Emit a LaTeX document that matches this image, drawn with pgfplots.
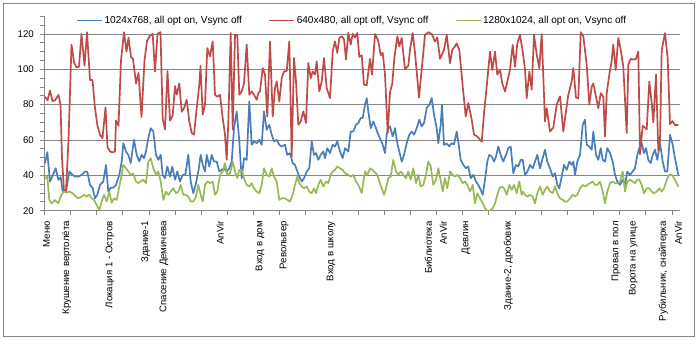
\documentclass[border=0pt]{standalone}
\usepackage{pgfplots}
\pgfplotsset{compat=1.18}
\usepackage{fontspec}
\setmainfont{Liberation Sans}
\definecolor{sblue}{HTML}{4A7EBB}
\definecolor{sred}{HTML}{BE4B48}
\definecolor{sgreen}{HTML}{98B954}
\definecolor{gridc}{HTML}{868686}
\begin{document}
\begin{tikzpicture}
\path[use as bounding box] (0bp,0bp) rectangle (697bp,340bp);
\draw[gridc, line width=0.75bp] (3bp,4bp) rectangle (694bp,337bp);
\begin{axis}[
  at={(44.3bp,129.3bp)}, anchor=south west,
  scale only axis, width=635.4bp, height=194.4bp,
  xmin=-0.7, xmax=634.7, ymin=20, ymax=130,
  axis lines=left, axis line style={-, gridc, line width=0.75bp},
  ytick={20,40,...,120},
  minor ytick={25,30,35,45,50,55,65,70,75,85,90,95,105,110,115,125,130},
  ymajorgrids, grid style={gridc, line width=0.75bp},
  tick align=outside, major tick length=4bp, minor tick length=4bp,
  tick style={gridc, line width=0.75bp},
  major x tick style={draw=none},
  xtick={1.7,21.7,65,100.7,119,175,215,239,286,383.3,398.3,421,463.3,571,588.3,618.3,633.3},
  xticklabels={Меню,Крушение вертолёта,Локация 1 - Остров,Здание-1,Спасение Демичева,AnVir,Вход в дом,Револьвер,Вход в школу,Библиотека,AnVir,Девлин,{Здание-2, дробовик},Провал в пол,Ворота на улице,{Рубильник,  снайперка},AnVir},
  minor xtick={-0.7,25.45,51.6,77.75,103.9,130.05,156.2,182.35,208.5,234.65,260.8,286.95,313.1,339.25,365.4,391.55,417.7,443.85,470,496.15,522.3,548.45,574.6,600.75,626.9},
  ticklabel style={font=\fontsize{9.7}{11}\selectfont},
  /pgf/number format/assume math mode=true,
  xticklabel style={yshift=-3bp, rotate=90, anchor=east},
  yticklabel style={xshift=-3bp},
  legend columns=3,
  legend style={draw=none, fill=none, at={(0.4843,0.978)}, anchor=center,
    font=\fontsize{10.1}{12}\selectfont,
    nodes={inner xsep=1.5bp},
    /tikz/every even column/.append style={column sep=25bp}},
  legend image code/.code={\draw[#1] (0bp,0bp) -- (25bp,0bp);},
  every axis plot/.append style={line width=1.7bp, mark=none, line join=round},
]
\addplot[sblue] coordinates {
(0,46.9) (2.3,53.1) (5,36.5) (7.7,40) (10.7,44) (13.3,37.5) (15.7,39) (17.7,30.8) (21,31) (24.3,42.2) (26.7,40.7) (30,39.3) (33.3,39.3) (36.7,40.3) (40,42.2) (42.3,42) (45,34.6) (47.7,32.7) (50,27) (52.3,29) (55,34.6) (58.3,36.5) (61,45.9) (63.3,30.8) (65.7,33) (68.3,33) (71,34.6) (74.3,40.3) (76.7,47.8) (78.3,58.2) (81,53.5) (83.3,51.6) (85.7,46.9) (89,60.1) (91.7,51.6) (94.3,47.8) (96.7,51.6) (99,49.7) (101,53.5) (103.3,61) (105.7,66.7) (108.3,64.8) (111,51.6) (113.3,48.8) (115.7,51.6) (117.7,40.3) (120,38.4) (122.3,45) (125,39.3) (127.3,45) (130,37.5) (132.3,42.2) (135,36.5) (137.7,40.3) (140.3,40.3) (143.3,51.6) (145.7,36.5) (148.3,29.9) (151,35.6) (153.3,42.2) (155.7,51.6) (157.7,45.9) (160,42.2) (161.7,51.6) (164.3,45) (166.7,51.6) (169,47.8) (171.7,47.8) (174.3,42.2) (176.7,43.1) (179,44) (181.7,42.2) (184.3,44) (186.7,47.8) (189,66.7) (191.7,76.2) (194.3,59.2) (196.7,38.4) (199,49.7) (201.7,48.8) (204.3,81.8) (206.7,57.3) (209,59.2) (211.7,58.2) (214.3,60.1) (216.7,57.3) (219,76.2) (221.7,65.8) (224.3,68.6) (226.7,63) (229,59.2) (231.7,60.1) (234.3,57.3) (236.7,56.3) (240,57.3) (242.3,51.6) (245,52.6) (247.7,46.9) (250,45.9) (252.3,42.2) (254.3,39.3) (256.7,36.5) (259,38.4) (261.7,42.2) (264.3,44) (266.7,59.2) (269,51.6) (271,52.6) (273.3,48.8) (275.7,51.6) (278.3,53.5) (280,49.7) (282.3,55.4) (285,52.6) (287.7,57.3) (290,56.3) (292.3,59.2) (295,53.5) (297.7,49.7) (300,55.4) (303.3,53.5) (305.7,64.8) (308.3,64.8) (311,68.6) (313.3,69.6) (315.7,72.4) (317.7,72.4) (320,80) (321.7,83.7) (323.3,76.2) (325.7,66.7) (328.3,70.5) (331,66.7) (333.3,63) (335.7,60.1) (337.7,57.3) (340,52.6) (341.7,63) (343.3,66.7) (345,67.7) (347.7,62) (350,66.7) (352.3,58.2) (354.3,53.5) (356.7,47.8) (359,51.6) (361.7,58.2) (364.3,63) (366.7,64.8) (369,63) (371.7,66.7) (374.3,71.5) (376.7,67.7) (379,69.6) (381.7,78.1) (384.3,80) (386.7,83.7) (389,74.3) (391.7,66.7) (393.3,58.2) (395.7,68.6) (397,80) (399,57.3) (401.7,58) (404.3,56.5) (406.7,58.2) (409,57.5) (411.7,64.8) (413.3,59) (415.7,48.8) (418.3,45.9) (421,44) (423.3,45) (425.7,38.4) (428.3,40.3) (431,36.5) (433.3,34.6) (435.7,31.8) (437.7,29) (440,37.5) (442.3,47.8) (444.3,51.6) (446.7,50.7) (449,47.8) (451,50.7) (453.3,56.3) (455.7,51.6) (458.3,47.8) (461,51.6) (463.3,55.4) (465.7,56.3) (468.3,41.2) (471,45.9) (473.3,45) (475.7,48.8) (477.7,48.8) (480,40.3) (482.3,42) (485,45.9) (487.7,44) (490,47.8) (492.3,51.6) (495,44) (497.7,49.7) (500,54.5) (502.3,47.8) (505,44) (507.7,39.3) (510,41.2) (512.3,34.6) (514.3,32.7) (516.7,39.3) (519,45.9) (521.7,43.1) (524.3,47.8) (526.7,45.9) (528.3,47.8) (530,40.3) (532.3,47.8) (535,51.6) (537.7,68.6) (540,71.5) (541.7,57.3) (544.3,56.3) (546.7,54.5) (548.3,64.8) (551,51.6) (553.3,48.8) (555.7,55.4) (557.7,48.8) (560,47.8) (562.3,55.4) (565,52.6) (567.7,47.8) (570,40.3) (572.3,36.5) (575,34.6) (577.7,37.5) (580,34.6) (582.3,42.2) (585,40.3) (587.7,42.2) (590,44) (592.3,51.6) (594.3,55.4) (596.7,58.2) (599,52.6) (601,55.4) (603.3,48.8) (605.7,46.9) (607.7,51.6) (610,54.5) (612.3,48.8) (615,58.2) (617.7,47.8) (620,42.2) (622.3,42.2) (625,63) (627.7,57.3) (630,49.7) (633.3,40.3)
};
\addlegendentry{1024x768, all opt on, Vsync off}
\addplot[sred] coordinates {
(0,84.5) (2.5,82.5) (5,88) (7.5,82) (10,82.5) (13.5,85.5) (15.5,80) (17,50) (19,31) (21,31) (23.5,60) (26.5,114) (29,104) (31.5,101) (34,101.5) (36.5,120) (39.5,102) (42,121) (45,94) (47.5,94) (50,78) (52.5,68) (55,63) (57.5,61) (60.5,78.5) (62.5,56) (65,53.5) (67.5,53) (70,53.5) (71,71) (73.5,68) (76,105) (79,121) (81.5,110) (83.5,118) (86,107) (88,106) (91,92) (93.5,98) (96.5,73) (99.5,105) (102,116) (105,119) (107.7,120) (110,98.8) (112.5,120) (115.5,121) (117.7,72) (120,66) (122.5,99) (125,71) (127.7,74) (130,90.5) (131.7,85.6) (134.3,92) (136.7,76) (139,78) (141.7,82.8) (144.3,70.5) (146.7,64) (149,63) (151.7,78) (154.3,91.3) (155.5,102) (157.7,74.3) (160,80) (162.3,112) (165,107.3) (167.7,115.8) (170,85.6) (172.3,84.5) (175,85.6) (177.7,72.4) (180,63) (181.7,48.8) (183.3,70) (185.7,120.6) (187.7,66) (190,119.6) (192.3,119) (194.3,85.6) (196.7,87.5) (199,92.2) (201.7,114) (204.3,85.6) (206.7,87.5) (209,85.6) (211.7,82.8) (213.3,86.5) (215,87.5) (217.7,100.7) (220,97) (222.3,73.3) (225,115.8) (227.7,73.3) (230,89.4) (231.7,93.2) (234.3,81.8) (236.7,95) (239,98.8) (241.7,99) (244.3,115.8) (246.7,50.7) (249,106.4) (251,93.2) (253.3,68.6) (255.7,70.5) (258.3,76.2) (261,69.6) (263.3,103.6) (265.7,95) (267.7,98.8) (270,97) (271.7,104.5) (274.3,87.5) (276.7,93.2) (279,106.4) (281.7,89.4) (285,83.7) (287.7,110.2) (290,115.8) (292.3,109.3) (294.3,117.7) (296.7,118.7) (299,117) (301,105.5) (303.3,120.6) (305.7,114) (307.7,120) (310,118) (312.3,120.6) (314.3,107) (316.7,108) (319,91.3) (321.7,91) (325,106) (327,97) (330,120) (333.3,116) (335.7,108) (337.7,109.4) (340,97) (342.7,64) (345,87) (347.3,92) (349.3,106) (352.3,118.7) (354.3,113) (356.7,117.8) (360,100) (363.3,102) (365,111) (367.7,120.5) (370,109.4) (374,84) (376.7,100) (380,119.5) (383.3,121) (386.7,120) (390,115.7) (392.3,118) (395,106) (396.7,108) (399,111) (401.7,119.5) (405,103.5) (407.3,111) (410,113) (411.7,114.7) (414.3,111) (417.7,90.4) (420.7,73.4) (423.3,80.9) (426.7,71.5) (429,63) (432.3,62) (436.7,59) (439,75) (441.7,90.4) (445,110) (447.3,99.6) (450,110) (452.3,97) (455,99.8) (457.3,92) (460,87.4) (462.3,93) (465,99.8) (467.7,113.8) (470,101.5) (472.3,114.7) (475,119.5) (477.7,110) (480,100) (481.7,83.7) (484.3,98.8) (486.7,88.5) (489,119.5) (491.7,108.3) (494.3,100.7) (496.7,120) (500,70.5) (501.7,78) (505,64.8) (508.3,67) (511.7,80) (515,84.7) (518.3,64.8) (521,76.2) (523.3,85.6) (526.7,93.2) (528.3,100.7) (531,84) (533.3,83.7) (535.7,121) (538.3,118.7) (541.7,102.6) (544.3,80) (546.7,90.3) (548.3,92) (551,84.5) (553.3,78) (555.7,86.5) (558.3,84.5) (560,62) (561.7,86.5) (564.3,97) (566.7,105) (568.3,114) (570.7,99.6) (573.3,117.8) (575.7,111) (578.3,101.5) (581.7,64) (583.3,102.5) (585.7,106) (588.3,105.5) (591,106) (593.3,110) (595,52) (597.7,68) (600,67) (601.7,66) (604.3,93) (606.7,81) (608.3,70) (611,97) (613.3,54) (615,60) (616.7,111) (620,120.5) (622.7,106) (625,69) (627.3,70.7) (630,68.5) (633.3,68.5)
};
\addlegendentry{640x480, all opt off, Vsync off}
\addplot[sgreen] coordinates {
(0,38.4) (2.3,39.3) (4.3,26.1) (6.7,24.2) (10,26) (13.3,24.2) (15.7,28) (18.3,30.8) (21.7,30.3) (25,30.8) (28.3,29.5) (31,28) (33.3,27) (36.7,28) (39,29) (41.7,28) (44.3,29) (46.7,27) (49,26.1) (51.7,23.3) (54.3,20.4) (56.7,25.2) (59,29) (61.7,25.2) (64.3,30.8) (66.7,24.5) (69,27) (71.7,26.1) (74.3,33.7) (76.7,40.3) (78.3,45.9) (81,44) (83.3,42.2) (85.7,40.3) (88.3,41) (91,36.5) (93.3,35.6) (95.7,36.5) (98.3,37.5) (101,35.6) (103.3,47.8) (105.7,49.7) (108.3,44) (111,40.3) (113.3,42.2) (115.7,36.5) (118.3,26.1) (121,30.8) (123.3,29) (125.7,30.8) (128.3,32.7) (131,29.9) (133.3,30.8) (135.7,34.6) (138.3,29) (141,29) (143.3,28) (145.7,25.2) (148.3,25.2) (151,28) (153.3,34.6) (155.7,29) (157.7,25.2) (160,34.6) (162.3,36.5) (165,35.6) (167.7,36.5) (170,29) (172.3,30.8) (175,40.3) (177.7,42.2) (180,46.9) (182.3,40.3) (185,41) (187.7,47.8) (190,42.2) (192.3,38.4) (194.3,43.1) (196.7,43.1) (199,38.4) (201.7,34.6) (204.3,33.7) (206.7,35.6) (209,32.7) (211.7,30.8) (214.3,29.9) (216.7,34.6) (219,44) (221.7,40.3) (224.3,39.3) (226.7,44) (229,39.3) (231.7,36.5) (234.3,26.1) (236.7,27) (240,27) (242.3,26.1) (245,25.2) (247.7,29) (250,34.6) (252.3,39.3) (254.3,35.6) (256.7,33.7) (259,32.7) (261.7,33.7) (264.3,30.8) (266.7,29.9) (269,32.7) (271,29.9) (273.3,34.6) (275.7,37.5) (278.3,33.7) (281,36.5) (283.3,35.6) (285.7,40.3) (287.7,42.2) (290,43.1) (292.3,45) (295,44) (297.7,43.1) (300,41.2) (303.3,40.3) (305.7,39.3) (308.3,40.3) (311,36.5) (313.3,34.6) (314.5,33) (316.7,30) (320,42.2) (322.3,40.3) (325,44) (327.7,43) (330,41.5) (332.3,40.3) (334.3,36.5) (336.7,32.7) (339,29) (341,32.7) (343.3,38.4) (345.7,39.3) (348.3,48.8) (351,42.2) (353.3,40.3) (355.7,42.2) (358.3,40.3) (361,38.4) (363.3,42.2) (365.7,37.5) (368.3,44) (371,35.6) (373.3,40.3) (375.7,33.7) (378.3,34.6) (381,40.3) (383.3,47.8) (385.7,45) (388.3,34.6) (391,37.5) (393.3,44) (395.7,37) (397.7,30.8) (400,38.4) (402.3,32.7) (405,42.2) (407.7,40.3) (410,39.3) (412.3,40.3) (415,38.4) (417.7,35.6) (420,36.5) (422.3,34.6) (425,30.8) (427.7,34.6) (430,24.2) (432.3,29.9) (435,27) (437.7,24.2) (440,21.4) (442.3,20.1) (445,20.1) (447.7,21.4) (450,24.2) (452.3,29) (454.3,32.7) (456.7,33.7) (459,32.7) (461.7,29) (464.3,34.6) (466.7,31.8) (469,34.6) (471.7,29.9) (474.3,36.5) (476.7,29) (477.7,30.8) (480,29) (482.3,28) (485,29) (487.7,28) (490,24.2) (492.3,29.9) (495,33.7) (497.7,29) (500,31.8) (502.3,33.7) (505,30.8) (507.7,30) (510,33.7) (512.3,29.9) (515,27) (517.7,26.1) (520,25.2) (522.3,25.2) (525,27) (527.7,29) (530,28) (532.3,29) (535,32.7) (537.7,34.6) (540,33.7) (542.3,34.6) (545,35.6) (547.7,36.5) (550,34.6) (552.3,34.6) (555,36.5) (557.7,30.8) (560,24.2) (562.3,30.8) (565,35.6) (567.7,36.5) (570,35.6) (572.3,35.6) (575,36.5) (577.7,42.2) (580,30.8) (582.3,36.5) (585,37.5) (587.7,36.5) (590,35.6) (592.3,37.5) (594.3,37.5) (596.7,34.6) (599,29.9) (601.7,32.7) (604.3,32.7) (606.7,30.8) (609,29.9) (611.7,30.8) (614.3,32.7) (616.7,30.8) (619,32.7) (621.7,37.5) (624.3,40.3) (626.7,40.3) (629,38.4) (633.3,33.7)
};
\addlegendentry{1280x1024, all opt on, Vsync off}
\end{axis}
\end{tikzpicture}
\end{document}
